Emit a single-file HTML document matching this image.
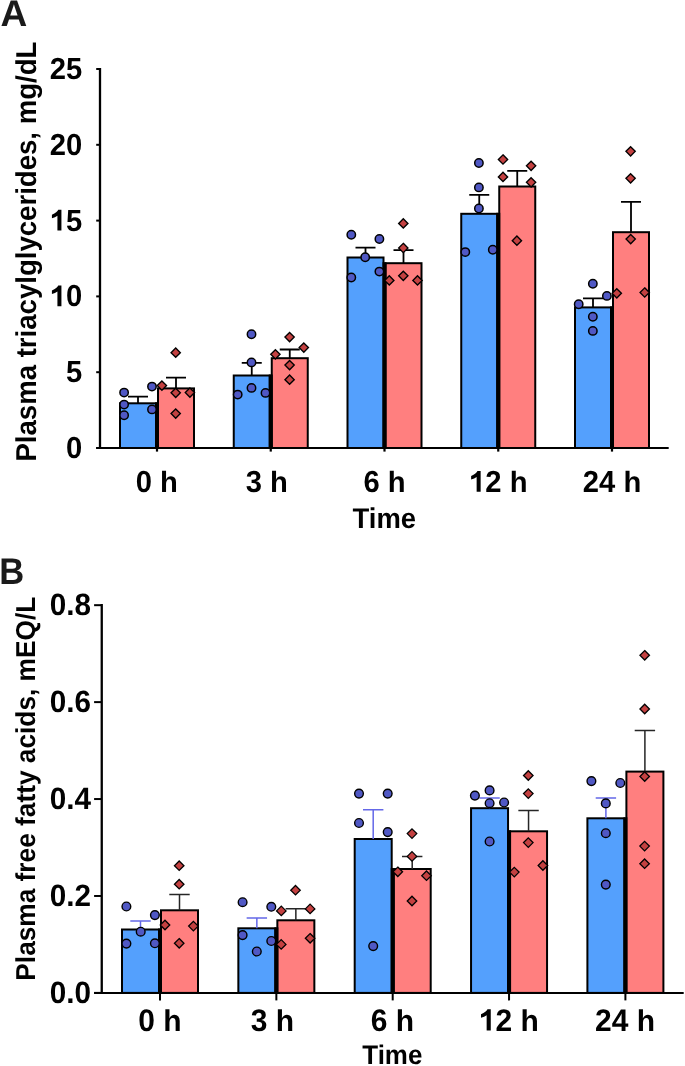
<!DOCTYPE html>
<html><head><meta charset="utf-8"><title>Plasma lipids</title><style>
html,body{margin:0;padding:0;background:#fff;overflow:hidden;}
svg{display:block;}
text{font-family:"Liberation Sans", sans-serif;font-weight:bold;fill:#000;text-rendering:geometricPrecision;}
</style></head><body>
<svg width="685" height="1066" viewBox="0 0 685 1066">
<rect width="685" height="1066" fill="#fff"/>
<rect x="120.00" y="403.30" width="36.00" height="44.70" fill="#54a0fd" stroke="#000" stroke-width="2.0"/>
<rect x="158.00" y="388.40" width="36.00" height="59.60" fill="#ff7f7f" stroke="#000" stroke-width="2.0"/>
<rect x="155.00" y="402.30" width="4.00" height="45.70" fill="#000"/>
<rect x="233.75" y="375.50" width="36.00" height="72.50" fill="#54a0fd" stroke="#000" stroke-width="2.0"/>
<rect x="271.75" y="358.20" width="36.00" height="89.80" fill="#ff7f7f" stroke="#000" stroke-width="2.0"/>
<rect x="268.75" y="374.50" width="4.00" height="73.50" fill="#000"/>
<rect x="347.50" y="257.50" width="36.00" height="190.50" fill="#54a0fd" stroke="#000" stroke-width="2.0"/>
<rect x="385.50" y="263.20" width="36.00" height="184.80" fill="#ff7f7f" stroke="#000" stroke-width="2.0"/>
<rect x="382.50" y="262.20" width="4.00" height="185.80" fill="#000"/>
<rect x="461.25" y="213.80" width="36.00" height="234.20" fill="#54a0fd" stroke="#000" stroke-width="2.0"/>
<rect x="499.25" y="186.50" width="36.00" height="261.50" fill="#ff7f7f" stroke="#000" stroke-width="2.0"/>
<rect x="496.25" y="212.80" width="4.00" height="235.20" fill="#000"/>
<rect x="575.00" y="307.40" width="36.00" height="140.60" fill="#54a0fd" stroke="#000" stroke-width="2.0"/>
<rect x="613.00" y="232.20" width="36.00" height="215.80" fill="#ff7f7f" stroke="#000" stroke-width="2.0"/>
<rect x="610.00" y="306.40" width="4.00" height="141.60" fill="#000"/>
<path d="M128.00 396.60H148.00M138.00 396.60V403.30" stroke="#000" stroke-width="1.8" fill="none"/>
<path d="M166.00 377.70H186.00M176.00 377.70V388.40" stroke="#000" stroke-width="1.8" fill="none"/>
<path d="M241.75 362.85H261.75M251.75 362.85V375.50" stroke="#000" stroke-width="1.8" fill="none"/>
<path d="M279.75 349.50H299.75M289.75 349.50V358.20" stroke="#000" stroke-width="1.8" fill="none"/>
<path d="M355.50 247.70H375.50M365.50 247.70V257.50" stroke="#000" stroke-width="1.8" fill="none"/>
<path d="M393.50 250.10H413.50M403.50 250.10V263.20" stroke="#000" stroke-width="1.8" fill="none"/>
<path d="M469.25 194.90H489.25M479.25 194.90V213.80" stroke="#000" stroke-width="1.8" fill="none"/>
<path d="M507.25 170.80H527.25M517.25 170.80V186.50" stroke="#000" stroke-width="1.8" fill="none"/>
<path d="M583.00 298.30H603.00M593.00 298.30V307.40" stroke="#000" stroke-width="1.8" fill="none"/>
<path d="M621.00 201.95H641.00M631.00 201.95V232.20" stroke="#000" stroke-width="1.8" fill="none"/>
<circle cx="124.10" cy="392.60" r="4.2" fill="#5058c4" stroke="#000" stroke-width="1.5"/>
<circle cx="124.10" cy="404.60" r="4.2" fill="#5058c4" stroke="#000" stroke-width="1.5"/>
<circle cx="124.10" cy="415.30" r="4.2" fill="#5058c4" stroke="#000" stroke-width="1.5"/>
<circle cx="152.00" cy="386.60" r="4.2" fill="#5058c4" stroke="#000" stroke-width="1.5"/>
<circle cx="152.00" cy="409.40" r="4.2" fill="#5058c4" stroke="#000" stroke-width="1.5"/>
<path d="M175.70 348.05L180.35 352.70L175.70 357.35L171.05 352.70Z" fill="#c44141" stroke="#000" stroke-width="1.35" stroke-linejoin="miter"/>
<path d="M161.90 380.95L166.55 385.60L161.90 390.25L157.25 385.60Z" fill="#c44141" stroke="#000" stroke-width="1.35" stroke-linejoin="miter"/>
<path d="M175.70 388.15L180.35 392.80L175.70 397.45L171.05 392.80Z" fill="#c44141" stroke="#000" stroke-width="1.35" stroke-linejoin="miter"/>
<path d="M189.90 387.95L194.55 392.60L189.90 397.25L185.25 392.60Z" fill="#c44141" stroke="#000" stroke-width="1.35" stroke-linejoin="miter"/>
<path d="M175.70 408.95L180.35 413.60L175.70 418.25L171.05 413.60Z" fill="#c44141" stroke="#000" stroke-width="1.35" stroke-linejoin="miter"/>
<circle cx="251.50" cy="334.20" r="4.2" fill="#5058c4" stroke="#000" stroke-width="1.5"/>
<circle cx="251.50" cy="362.40" r="4.2" fill="#5058c4" stroke="#000" stroke-width="1.5"/>
<circle cx="251.50" cy="387.90" r="4.2" fill="#5058c4" stroke="#000" stroke-width="1.5"/>
<circle cx="237.70" cy="394.60" r="4.2" fill="#5058c4" stroke="#000" stroke-width="1.5"/>
<circle cx="265.50" cy="392.90" r="4.2" fill="#5058c4" stroke="#000" stroke-width="1.5"/>
<path d="M289.60 332.45L294.25 337.10L289.60 341.75L284.95 337.10Z" fill="#c44141" stroke="#000" stroke-width="1.35" stroke-linejoin="miter"/>
<path d="M303.80 342.95L308.45 347.60L303.80 352.25L299.15 347.60Z" fill="#c44141" stroke="#000" stroke-width="1.35" stroke-linejoin="miter"/>
<path d="M275.40 349.65L280.05 354.30L275.40 358.95L270.75 354.30Z" fill="#c44141" stroke="#000" stroke-width="1.35" stroke-linejoin="miter"/>
<path d="M289.60 360.45L294.25 365.10L289.60 369.75L284.95 365.10Z" fill="#c44141" stroke="#000" stroke-width="1.35" stroke-linejoin="miter"/>
<path d="M289.60 375.05L294.25 379.70L289.60 384.35L284.95 379.70Z" fill="#c44141" stroke="#000" stroke-width="1.35" stroke-linejoin="miter"/>
<circle cx="351.30" cy="234.80" r="4.2" fill="#5058c4" stroke="#000" stroke-width="1.5"/>
<circle cx="379.40" cy="239.00" r="4.2" fill="#5058c4" stroke="#000" stroke-width="1.5"/>
<circle cx="365.20" cy="257.20" r="4.2" fill="#5058c4" stroke="#000" stroke-width="1.5"/>
<circle cx="379.40" cy="271.60" r="4.2" fill="#5058c4" stroke="#000" stroke-width="1.5"/>
<circle cx="351.30" cy="277.50" r="4.2" fill="#5058c4" stroke="#000" stroke-width="1.5"/>
<path d="M403.30 218.75L407.95 223.40L403.30 228.05L398.65 223.40Z" fill="#c44141" stroke="#000" stroke-width="1.35" stroke-linejoin="miter"/>
<path d="M403.30 243.35L407.95 248.00L403.30 252.65L398.65 248.00Z" fill="#c44141" stroke="#000" stroke-width="1.35" stroke-linejoin="miter"/>
<path d="M403.30 271.15L407.95 275.80L403.30 280.45L398.65 275.80Z" fill="#c44141" stroke="#000" stroke-width="1.35" stroke-linejoin="miter"/>
<path d="M389.30 275.75L393.95 280.40L389.30 285.05L384.65 280.40Z" fill="#c44141" stroke="#000" stroke-width="1.35" stroke-linejoin="miter"/>
<path d="M417.50 275.75L422.15 280.40L417.50 285.05L412.85 280.40Z" fill="#c44141" stroke="#000" stroke-width="1.35" stroke-linejoin="miter"/>
<circle cx="478.90" cy="163.00" r="4.2" fill="#5058c4" stroke="#000" stroke-width="1.5"/>
<circle cx="478.90" cy="187.40" r="4.2" fill="#5058c4" stroke="#000" stroke-width="1.5"/>
<circle cx="478.90" cy="208.50" r="4.2" fill="#5058c4" stroke="#000" stroke-width="1.5"/>
<circle cx="465.30" cy="252.10" r="4.2" fill="#5058c4" stroke="#000" stroke-width="1.5"/>
<circle cx="492.80" cy="249.80" r="4.2" fill="#5058c4" stroke="#000" stroke-width="1.5"/>
<path d="M503.00 154.85L507.65 159.50L503.00 164.15L498.35 159.50Z" fill="#c44141" stroke="#000" stroke-width="1.35" stroke-linejoin="miter"/>
<path d="M531.10 161.15L535.75 165.80L531.10 170.45L526.45 165.80Z" fill="#c44141" stroke="#000" stroke-width="1.35" stroke-linejoin="miter"/>
<path d="M503.00 172.25L507.65 176.90L503.00 181.55L498.35 176.90Z" fill="#c44141" stroke="#000" stroke-width="1.35" stroke-linejoin="miter"/>
<path d="M531.10 177.65L535.75 182.30L531.10 186.95L526.45 182.30Z" fill="#c44141" stroke="#000" stroke-width="1.35" stroke-linejoin="miter"/>
<path d="M516.90 236.05L521.55 240.70L516.90 245.35L512.25 240.70Z" fill="#c44141" stroke="#000" stroke-width="1.35" stroke-linejoin="miter"/>
<circle cx="592.85" cy="283.80" r="4.2" fill="#5058c4" stroke="#000" stroke-width="1.5"/>
<circle cx="606.90" cy="295.90" r="4.2" fill="#5058c4" stroke="#000" stroke-width="1.5"/>
<circle cx="578.70" cy="304.30" r="4.2" fill="#5058c4" stroke="#000" stroke-width="1.5"/>
<circle cx="592.85" cy="316.80" r="4.2" fill="#5058c4" stroke="#000" stroke-width="1.5"/>
<circle cx="592.85" cy="330.90" r="4.2" fill="#5058c4" stroke="#000" stroke-width="1.5"/>
<path d="M630.60 146.65L635.25 151.30L630.60 155.95L625.95 151.30Z" fill="#c44141" stroke="#000" stroke-width="1.35" stroke-linejoin="miter"/>
<path d="M630.60 173.65L635.25 178.30L630.60 182.95L625.95 178.30Z" fill="#c44141" stroke="#000" stroke-width="1.35" stroke-linejoin="miter"/>
<path d="M630.70 234.45L635.35 239.10L630.70 243.75L626.05 239.10Z" fill="#c44141" stroke="#000" stroke-width="1.35" stroke-linejoin="miter"/>
<path d="M616.80 288.65L621.45 293.30L616.80 297.95L612.15 293.30Z" fill="#c44141" stroke="#000" stroke-width="1.35" stroke-linejoin="miter"/>
<path d="M644.70 287.85L649.35 292.50L644.70 297.15L640.05 292.50Z" fill="#c44141" stroke="#000" stroke-width="1.35" stroke-linejoin="miter"/>
<path d="M100.00 68.00V449.00" stroke="#000" stroke-width="2.3" fill="none"/>
<path d="M96.20 448.00H668.70" stroke="#000" stroke-width="2.0" fill="none"/>
<path d="M96.20 448.00H100.00" stroke="#000" stroke-width="2.0" fill="none"/>
<path d="M96.20 372.20H100.00" stroke="#000" stroke-width="2.0" fill="none"/>
<path d="M96.20 296.40H100.00" stroke="#000" stroke-width="2.0" fill="none"/>
<path d="M96.20 220.60H100.00" stroke="#000" stroke-width="2.0" fill="none"/>
<path d="M96.20 144.80H100.00" stroke="#000" stroke-width="2.0" fill="none"/>
<path d="M96.20 69.00H100.00" stroke="#000" stroke-width="2.0" fill="none"/>
<path d="M157.00 448.00V451.60" stroke="#000" stroke-width="2.2" fill="none"/>
<path d="M270.75 448.00V451.60" stroke="#000" stroke-width="2.2" fill="none"/>
<path d="M384.50 448.00V451.60" stroke="#000" stroke-width="2.2" fill="none"/>
<path d="M498.25 448.00V451.60" stroke="#000" stroke-width="2.2" fill="none"/>
<path d="M612.00 448.00V451.60" stroke="#000" stroke-width="2.2" fill="none"/>
<rect x="122.00" y="929.50" width="37.00" height="63.40" fill="#54a0fd" stroke="#000" stroke-width="2.0"/>
<rect x="161.00" y="910.30" width="37.00" height="82.60" fill="#ff7f7f" stroke="#000" stroke-width="2.0"/>
<rect x="158.00" y="928.50" width="4.00" height="64.40" fill="#000"/>
<rect x="238.35" y="928.30" width="37.00" height="64.60" fill="#54a0fd" stroke="#000" stroke-width="2.0"/>
<rect x="277.35" y="920.30" width="37.00" height="72.60" fill="#ff7f7f" stroke="#000" stroke-width="2.0"/>
<rect x="274.35" y="927.30" width="4.00" height="65.60" fill="#000"/>
<rect x="354.70" y="839.00" width="37.00" height="153.90" fill="#54a0fd" stroke="#000" stroke-width="2.0"/>
<rect x="393.70" y="869.00" width="37.00" height="123.90" fill="#ff7f7f" stroke="#000" stroke-width="2.0"/>
<rect x="390.70" y="868.00" width="4.00" height="124.90" fill="#000"/>
<rect x="471.05" y="808.20" width="37.00" height="184.70" fill="#54a0fd" stroke="#000" stroke-width="2.0"/>
<rect x="510.05" y="831.30" width="37.00" height="161.60" fill="#ff7f7f" stroke="#000" stroke-width="2.0"/>
<rect x="507.05" y="830.30" width="4.00" height="162.60" fill="#000"/>
<rect x="587.40" y="818.30" width="37.00" height="174.60" fill="#54a0fd" stroke="#000" stroke-width="2.0"/>
<rect x="626.40" y="771.60" width="37.00" height="221.30" fill="#ff7f7f" stroke="#000" stroke-width="2.0"/>
<rect x="623.40" y="817.30" width="4.00" height="175.60" fill="#000"/>
<path d="M130.30 920.90H150.70M140.50 920.90V929.50" stroke="#6468e8" stroke-width="1.5" fill="none"/>
<path d="M169.30 894.50H189.70M179.50 894.50V910.30" stroke="#262626" stroke-width="1.5" fill="none"/>
<path d="M246.65 918.00H267.05M256.85 918.00V928.30" stroke="#6468e8" stroke-width="1.5" fill="none"/>
<path d="M285.65 908.70H306.05M295.85 908.70V920.30" stroke="#262626" stroke-width="1.5" fill="none"/>
<path d="M363.00 809.70H383.40M373.20 809.70V839.00" stroke="#6468e8" stroke-width="1.5" fill="none"/>
<path d="M402.00 856.60H422.40M412.20 856.60V869.00" stroke="#262626" stroke-width="1.5" fill="none"/>
<path d="M479.35 798.00H499.75M489.55 798.00V808.20" stroke="#6468e8" stroke-width="1.5" fill="none"/>
<path d="M518.35 810.50H538.75M528.55 810.50V831.30" stroke="#262626" stroke-width="1.5" fill="none"/>
<path d="M595.70 798.00H616.10M605.90 798.00V818.30" stroke="#6468e8" stroke-width="1.5" fill="none"/>
<path d="M634.70 730.50H655.10M644.90 730.50V771.60" stroke="#262626" stroke-width="1.5" fill="none"/>
<circle cx="126.40" cy="906.50" r="4.35" fill="#5058c4" stroke="#000" stroke-width="1.4"/>
<circle cx="154.90" cy="915.10" r="4.35" fill="#5058c4" stroke="#000" stroke-width="1.4"/>
<circle cx="140.70" cy="931.70" r="4.35" fill="#5058c4" stroke="#000" stroke-width="1.4"/>
<circle cx="126.40" cy="943.60" r="4.35" fill="#5058c4" stroke="#000" stroke-width="1.4"/>
<circle cx="154.90" cy="943.30" r="4.35" fill="#5058c4" stroke="#000" stroke-width="1.4"/>
<path d="M179.20 860.95L183.95 865.70L179.20 870.45L174.45 865.70Z" fill="#c44141" stroke="#000" stroke-width="1.3" stroke-linejoin="miter"/>
<path d="M179.20 879.45L183.95 884.20L179.20 888.95L174.45 884.20Z" fill="#c44141" stroke="#000" stroke-width="1.3" stroke-linejoin="miter"/>
<path d="M165.00 920.25L169.75 925.00L165.00 929.75L160.25 925.00Z" fill="#c44141" stroke="#000" stroke-width="1.3" stroke-linejoin="miter"/>
<path d="M193.40 921.35L198.15 926.10L193.40 930.85L188.65 926.10Z" fill="#c44141" stroke="#000" stroke-width="1.3" stroke-linejoin="miter"/>
<path d="M179.20 938.55L183.95 943.30L179.20 948.05L174.45 943.30Z" fill="#c44141" stroke="#000" stroke-width="1.3" stroke-linejoin="miter"/>
<circle cx="242.60" cy="902.20" r="4.35" fill="#5058c4" stroke="#000" stroke-width="1.4"/>
<circle cx="271.30" cy="906.80" r="4.35" fill="#5058c4" stroke="#000" stroke-width="1.4"/>
<circle cx="242.60" cy="935.10" r="4.35" fill="#5058c4" stroke="#000" stroke-width="1.4"/>
<circle cx="271.30" cy="941.00" r="4.35" fill="#5058c4" stroke="#000" stroke-width="1.4"/>
<circle cx="256.80" cy="951.50" r="4.35" fill="#5058c4" stroke="#000" stroke-width="1.4"/>
<path d="M295.50 885.45L300.25 890.20L295.50 894.95L290.75 890.20Z" fill="#c44141" stroke="#000" stroke-width="1.3" stroke-linejoin="miter"/>
<path d="M281.30 906.15L286.05 910.90L281.30 915.65L276.55 910.90Z" fill="#c44141" stroke="#000" stroke-width="1.3" stroke-linejoin="miter"/>
<path d="M310.10 904.15L314.85 908.90L310.10 913.65L305.35 908.90Z" fill="#c44141" stroke="#000" stroke-width="1.3" stroke-linejoin="miter"/>
<path d="M310.10 933.55L314.85 938.30L310.10 943.05L305.35 938.30Z" fill="#c44141" stroke="#000" stroke-width="1.3" stroke-linejoin="miter"/>
<path d="M281.20 939.65L285.95 944.40L281.20 949.15L276.45 944.40Z" fill="#c44141" stroke="#000" stroke-width="1.3" stroke-linejoin="miter"/>
<circle cx="359.00" cy="793.60" r="4.35" fill="#5058c4" stroke="#000" stroke-width="1.4"/>
<circle cx="387.70" cy="793.60" r="4.35" fill="#5058c4" stroke="#000" stroke-width="1.4"/>
<circle cx="359.00" cy="823.00" r="4.35" fill="#5058c4" stroke="#000" stroke-width="1.4"/>
<circle cx="387.70" cy="832.10" r="4.35" fill="#5058c4" stroke="#000" stroke-width="1.4"/>
<circle cx="373.20" cy="946.10" r="4.35" fill="#5058c4" stroke="#000" stroke-width="1.4"/>
<path d="M412.00 828.85L416.75 833.60L412.00 838.35L407.25 833.60Z" fill="#c44141" stroke="#000" stroke-width="1.3" stroke-linejoin="miter"/>
<path d="M412.00 851.65L416.75 856.40L412.00 861.15L407.25 856.40Z" fill="#c44141" stroke="#000" stroke-width="1.3" stroke-linejoin="miter"/>
<path d="M397.80 867.05L402.55 871.80L397.80 876.55L393.05 871.80Z" fill="#c44141" stroke="#000" stroke-width="1.3" stroke-linejoin="miter"/>
<path d="M426.50 870.95L431.25 875.70L426.50 880.45L421.75 875.70Z" fill="#c44141" stroke="#000" stroke-width="1.3" stroke-linejoin="miter"/>
<path d="M412.00 896.25L416.75 901.00L412.00 905.75L407.25 901.00Z" fill="#c44141" stroke="#000" stroke-width="1.3" stroke-linejoin="miter"/>
<circle cx="489.60" cy="790.40" r="4.35" fill="#5058c4" stroke="#000" stroke-width="1.4"/>
<circle cx="474.90" cy="795.60" r="4.35" fill="#5058c4" stroke="#000" stroke-width="1.4"/>
<circle cx="489.60" cy="803.20" r="4.35" fill="#5058c4" stroke="#000" stroke-width="1.4"/>
<circle cx="504.10" cy="802.50" r="4.35" fill="#5058c4" stroke="#000" stroke-width="1.4"/>
<circle cx="489.60" cy="841.50" r="4.35" fill="#5058c4" stroke="#000" stroke-width="1.4"/>
<path d="M528.30 770.75L533.05 775.50L528.30 780.25L523.55 775.50Z" fill="#c44141" stroke="#000" stroke-width="1.3" stroke-linejoin="miter"/>
<path d="M528.30 788.85L533.05 793.60L528.30 798.35L523.55 793.60Z" fill="#c44141" stroke="#000" stroke-width="1.3" stroke-linejoin="miter"/>
<path d="M528.30 837.85L533.05 842.60L528.30 847.35L523.55 842.60Z" fill="#c44141" stroke="#000" stroke-width="1.3" stroke-linejoin="miter"/>
<path d="M542.90 860.75L547.65 865.50L542.90 870.25L538.15 865.50Z" fill="#c44141" stroke="#000" stroke-width="1.3" stroke-linejoin="miter"/>
<path d="M514.30 867.35L519.05 872.10L514.30 876.85L509.55 872.10Z" fill="#c44141" stroke="#000" stroke-width="1.3" stroke-linejoin="miter"/>
<circle cx="591.40" cy="781.10" r="4.35" fill="#5058c4" stroke="#000" stroke-width="1.4"/>
<circle cx="620.30" cy="783.00" r="4.35" fill="#5058c4" stroke="#000" stroke-width="1.4"/>
<circle cx="605.80" cy="803.40" r="4.35" fill="#5058c4" stroke="#000" stroke-width="1.4"/>
<circle cx="605.80" cy="833.20" r="4.35" fill="#5058c4" stroke="#000" stroke-width="1.4"/>
<circle cx="605.80" cy="884.60" r="4.35" fill="#5058c4" stroke="#000" stroke-width="1.4"/>
<path d="M644.70 650.55L649.45 655.30L644.70 660.05L639.95 655.30Z" fill="#c44141" stroke="#000" stroke-width="1.3" stroke-linejoin="miter"/>
<path d="M644.70 704.25L649.45 709.00L644.70 713.75L639.95 709.00Z" fill="#c44141" stroke="#000" stroke-width="1.3" stroke-linejoin="miter"/>
<path d="M644.70 771.75L649.45 776.50L644.70 781.25L639.95 776.50Z" fill="#c44141" stroke="#000" stroke-width="1.3" stroke-linejoin="miter"/>
<path d="M644.60 841.35L649.35 846.10L644.60 850.85L639.85 846.10Z" fill="#c44141" stroke="#000" stroke-width="1.3" stroke-linejoin="miter"/>
<path d="M644.60 858.95L649.35 863.70L644.60 868.45L639.85 863.70Z" fill="#c44141" stroke="#000" stroke-width="1.3" stroke-linejoin="miter"/>
<path d="M101.75 604.00V993.90" stroke="#000" stroke-width="2.3" fill="none"/>
<path d="M94.10 992.90H683.70" stroke="#000" stroke-width="2.0" fill="none"/>
<path d="M94.10 992.90H101.75" stroke="#000" stroke-width="2.0" fill="none"/>
<path d="M94.10 895.97H101.75" stroke="#000" stroke-width="2.0" fill="none"/>
<path d="M94.10 799.04H101.75" stroke="#000" stroke-width="2.0" fill="none"/>
<path d="M94.10 702.11H101.75" stroke="#000" stroke-width="2.0" fill="none"/>
<path d="M94.10 605.18H101.75" stroke="#000" stroke-width="2.0" fill="none"/>
<path d="M160.00 992.90V1000.40" stroke="#000" stroke-width="2.0" fill="none"/>
<path d="M276.35 992.90V1000.40" stroke="#000" stroke-width="2.0" fill="none"/>
<path d="M392.70 992.90V1000.40" stroke="#000" stroke-width="2.0" fill="none"/>
<path d="M509.05 992.90V1000.40" stroke="#000" stroke-width="2.0" fill="none"/>
<path d="M625.40 992.90V1000.40" stroke="#000" stroke-width="2.0" fill="none"/>
<g style="opacity:0.999">
<text transform="translate(82.30 457.95) scale(1 1.04)" font-size="29.2" text-anchor="end">0</text>
<text transform="translate(82.30 382.15) scale(1 1.04)" font-size="29.2" text-anchor="end">5</text>
<path transform="translate(49.82 306.35) scale(0.014258 -0.014828)" d="M814 0L814 1409L590 1409Q520 1240 147 1072L147 836Q380 895 533 1000L533 0Z" fill="#000"/>
<text transform="translate(66.06 306.35) scale(1 1.04)" font-size="29.2" text-anchor="start" xml:space="preserve">0</text>
<path transform="translate(49.82 230.55) scale(0.014258 -0.014828)" d="M814 0L814 1409L590 1409Q520 1240 147 1072L147 836Q380 895 533 1000L533 0Z" fill="#000"/>
<text transform="translate(66.06 230.55) scale(1 1.04)" font-size="29.2" text-anchor="start" xml:space="preserve">5</text>
<text transform="translate(82.30 154.75) scale(1 1.04)" font-size="29.2" text-anchor="end">20</text>
<text transform="translate(82.30 78.95) scale(1 1.04)" font-size="29.2" text-anchor="end">25</text>
<text transform="translate(135.71 491.80) scale(1 1.04)" font-size="29.2" text-anchor="start" xml:space="preserve">0 </text>
<text transform="translate(160.06 491.80) scale(1 1.0)" font-size="29.2" text-anchor="start">h</text>
<text transform="translate(245.76 491.80) scale(1 1.04)" font-size="29.2" text-anchor="start" xml:space="preserve">3 </text>
<text transform="translate(270.11 491.80) scale(1 1.0)" font-size="29.2" text-anchor="start">h</text>
<text transform="translate(363.41 491.80) scale(1 1.04)" font-size="29.2" text-anchor="start" xml:space="preserve">6 </text>
<text transform="translate(387.76 491.80) scale(1 1.0)" font-size="29.2" text-anchor="start">h</text>
<path transform="translate(469.04 491.80) scale(0.014258 -0.014828)" d="M814 0L814 1409L590 1409Q520 1240 147 1072L147 836Q380 895 533 1000L533 0Z" fill="#000"/>
<text transform="translate(485.28 491.80) scale(1 1.04)" font-size="29.2" text-anchor="start" xml:space="preserve">2 </text>
<text transform="translate(509.63 491.80) scale(1 1.0)" font-size="29.2" text-anchor="start">h</text>
<text transform="translate(582.79 491.80) scale(1 1.04)" font-size="29.2" text-anchor="start" xml:space="preserve">24 </text>
<text transform="translate(623.38 491.80) scale(1 1.0)" font-size="29.2" text-anchor="start">h</text>
<text transform="translate(384.30 528.00) scale(1 1.04)" font-size="27.44" text-anchor="middle">Time</text>
<text transform="translate(35.90 251.60) rotate(-90) scale(1 1.04)" font-size="27.59" text-anchor="middle">Plasma triacylglycerides, mg/dL</text>
<text transform="translate(0.38 26.30) scale(1.037 1.04)" font-size="35.8" style="fill:#1a1a1a">A</text>
<text transform="translate(91.10 1003.13) scale(1 1.04)" font-size="29.7" text-anchor="end">0.0</text>
<text transform="translate(91.10 906.20) scale(1 1.04)" font-size="29.7" text-anchor="end">0.2</text>
<text transform="translate(91.10 809.27) scale(1 1.04)" font-size="29.7" text-anchor="end">0.4</text>
<text transform="translate(91.10 712.34) scale(1 1.04)" font-size="29.7" text-anchor="end">0.6</text>
<text transform="translate(91.10 615.41) scale(1 1.04)" font-size="29.7" text-anchor="end">0.8</text>
<text transform="translate(138.33 1030.60) scale(1 1.04)" font-size="30.0" text-anchor="start" xml:space="preserve">0 </text>
<text transform="translate(163.35 1030.60) scale(1 1.0)" font-size="30.0" text-anchor="start">h</text>
<text transform="translate(250.68 1030.60) scale(1 1.04)" font-size="30.0" text-anchor="start" xml:space="preserve">3 </text>
<text transform="translate(275.70 1030.60) scale(1 1.0)" font-size="30.0" text-anchor="start">h</text>
<text transform="translate(370.73 1030.60) scale(1 1.04)" font-size="30.0" text-anchor="start" xml:space="preserve">6 </text>
<text transform="translate(395.75 1030.60) scale(1 1.0)" font-size="30.0" text-anchor="start">h</text>
<path transform="translate(478.84 1030.60) scale(0.014648 -0.015234)" d="M814 0L814 1409L590 1409Q520 1240 147 1072L147 836Q380 895 533 1000L533 0Z" fill="#000"/>
<text transform="translate(495.52 1030.60) scale(1 1.04)" font-size="30.0" text-anchor="start" xml:space="preserve">2 </text>
<text transform="translate(520.54 1030.60) scale(1 1.0)" font-size="30.0" text-anchor="start">h</text>
<text transform="translate(594.99 1030.60) scale(1 1.04)" font-size="30.0" text-anchor="start" xml:space="preserve">24 </text>
<text transform="translate(636.69 1030.60) scale(1 1.0)" font-size="30.0" text-anchor="start">h</text>
<text transform="translate(392.30 1063.60) scale(1 1.04)" font-size="25.96" text-anchor="middle">Time</text>
<text transform="translate(34.90 788.70) rotate(-90) scale(1 1.04)" font-size="26.27" text-anchor="middle">Plasma free fatty acids, mEQ/L</text>
<text transform="translate(-0.86 583.80) scale(0.966 1.04)" font-size="35.8" style="fill:#1a1a1a">B</text>
</g>
</svg>
</body></html>
